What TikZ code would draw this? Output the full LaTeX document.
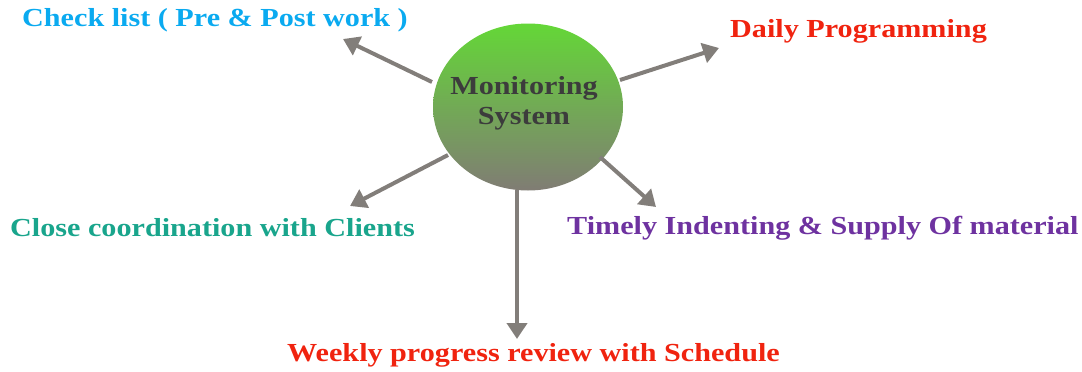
\documentclass[tikz,border=0pt]{standalone}
\usepackage{fontspec}
\setmainfont{Liberation Serif}[FakeStretch=1.16]
\usetikzlibrary{arrows.meta,shapes.geometric}
\definecolor{cblue}{RGB}{10,170,240}
\definecolor{cred}{RGB}{240,35,15}
\definecolor{cteal}{RGB}{25,165,140}
\definecolor{cpurple}{RGB}{110,50,160}
\definecolor{cgray}{RGB}{130,126,122}
\definecolor{gtop}{RGB}{100,215,55}
\definecolor{gbot}{RGB}{128,124,116}
\definecolor{ctext}{RGB}{60,60,60}
\tikzset{
  lbl/.style={font=\fontsize{26}{30}\selectfont\bfseries, inner sep=0pt, anchor=west},
  arr/.style={draw=cgray, line width=4pt, -{Triangle[width=20pt,length=16pt]}},
}
\begin{document}
\begin{tikzpicture}[x=1pt,y=-1pt]
\useasboundingbox (0,0) rectangle (1082,372);
\node[ellipse, minimum width=190pt, minimum height=167pt, top color=gtop, bottom color=gbot, inner sep=0pt] (c) at (528,107) {};
\node[font=\fontsize{26}{30}\selectfont\bfseries, text=ctext, align=center] (ct) at (524,103) {Monitoring\\System};
\node[lbl, text=cblue] (t1) at (22,20) {Check list ( Pre \& Post work )};
\node[lbl, text=cred] (t2) at (730,31) {Daily Programming};
\node[lbl, text=cteal] (t3) at (10,228) {Close coordination with Clients};
\node[lbl, text=cpurple] (t4) at (567,228) {Timely Indenting \& Supply Of material};
\node[lbl, text=cred] (t5) at (287,355) {Weekly progress review with Schedule};
\coordinate (a1s) at (432,82); \coordinate (a1e) at (343,39);
\coordinate (a2s) at (620,80); \coordinate (a2e) at (719,48);
\coordinate (a3s) at (448,155); \coordinate (a3e) at (350,206);
\coordinate (a4s) at (600,157); \coordinate (a4e) at (656,207);
\coordinate (a5s) at (517,190); \coordinate (a5e) at (517,339);
\draw[arr] (a1s) -- (a1e);
\draw[arr] (a2s) -- (a2e);
\draw[arr] (a3s) -- (a3e);
\draw[arr] (a4s) -- (a4e);
\draw[arr] (a5s) -- (a5e);
\end{tikzpicture}
\end{document}
